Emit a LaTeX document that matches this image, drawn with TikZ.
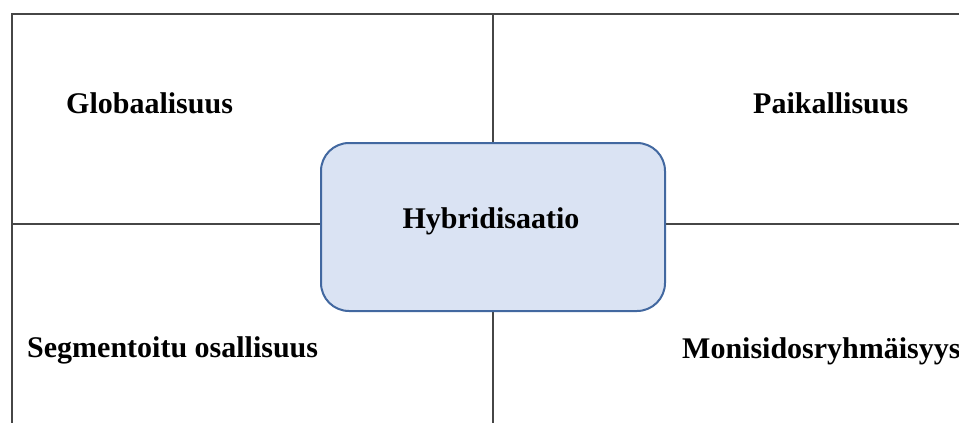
\documentclass[tikz,border=0pt]{standalone}
\usepackage{fontspec}
\setmainfont{Liberation Serif}
\usetikzlibrary{positioning}
\definecolor{boxfill}{RGB}{218,227,243}
\definecolor{boxline}{RGB}{66,104,160}
\definecolor{gridline}{RGB}{70,70,70}

\begin{document}
\begin{tikzpicture}[x=1pt,y=-1pt,
  t/.style={font=\fontsize{30pt}{36pt}\selectfont\bfseries,inner sep=0pt},
  g/.style={draw=gridline,line width=1.4pt},
  hb/.style={draw=boxline,line width=2pt,fill=boxfill,rounded corners=28pt,
    minimum width=344pt,minimum height=168pt}]
\useasboundingbox (0,0) rectangle (959,423);
\coordinate (tl) at (12,14);
\coordinate (tr) at (962,14);
\coordinate (bl) at (12,426);
\coordinate (tm) at (493,14);
\coordinate (bm) at (493,426);
\coordinate (ml) at (12,224);
\coordinate (mr) at (962,224);
\draw[g](bl)--(tl)--(tr);
\draw[g](tm)--(bm);
\draw[g](ml)--(mr);
\node[hb] (hyb) at (493,227) {};
\node[t,anchor=base] (hybt) at (491,228) {Hybridisaatio};
\node[t,anchor=base west] (glob) at (66,113) {Globaalisuus};
\node[t,anchor=base west] (paik) at (753,113) {Paikallisuus};
\node[t,anchor=base west] (segm) at (27,357) {Segmentoitu osallisuus};
\node[t,anchor=base west] (moni) at (682,358) {Monisidosryhmäisyys};
\end{tikzpicture}
\end{document}
